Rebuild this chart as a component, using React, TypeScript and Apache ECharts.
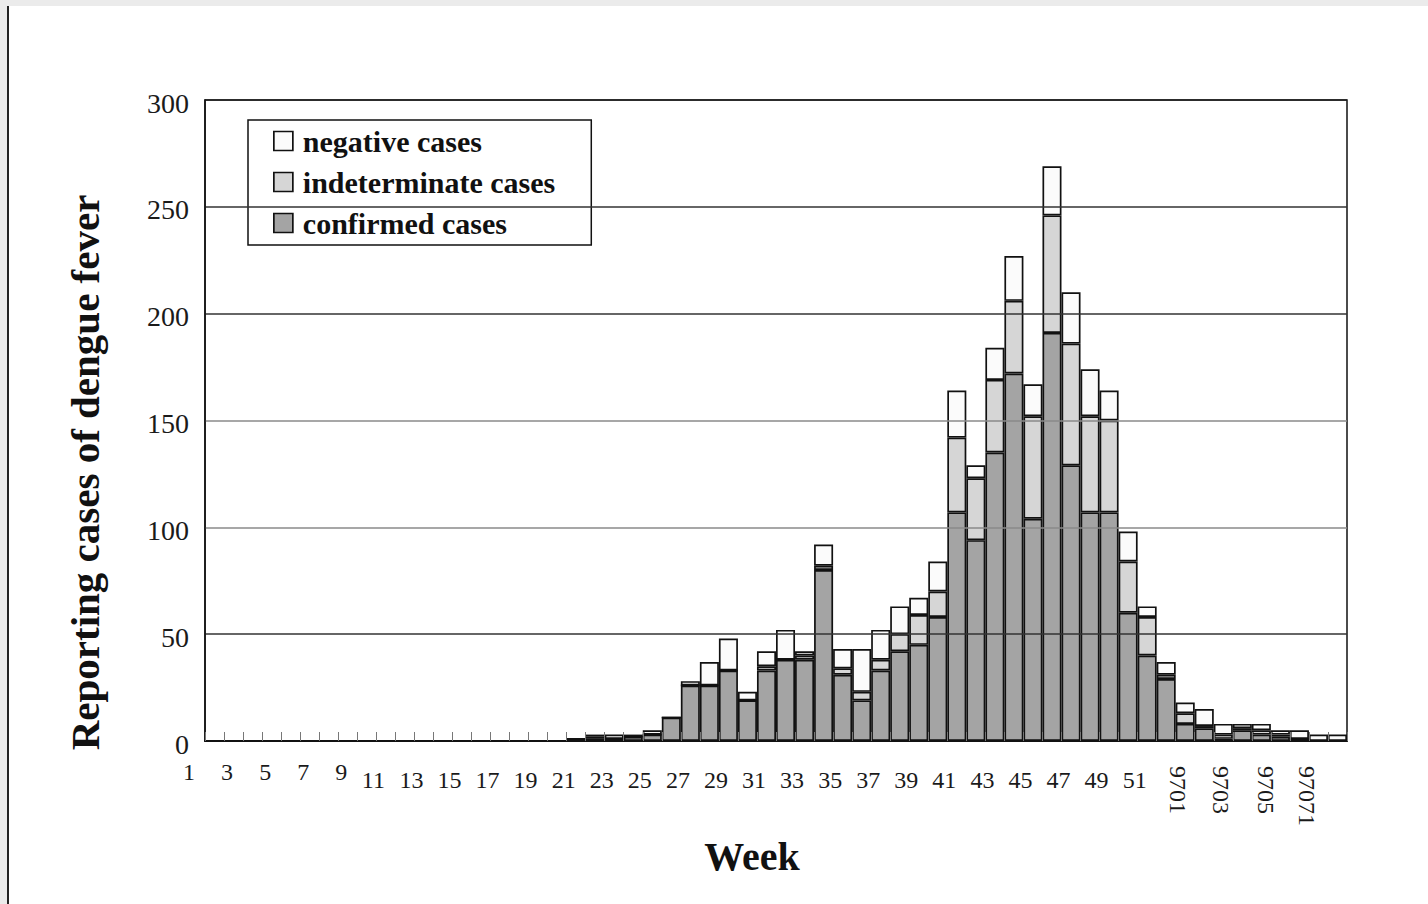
import React, { useEffect, useRef } from "react";
import * as echarts from "echarts";

// Categories: weeks 1..52 of 1996, then weeks 9701..9708
const categories = [
  "1", "2", "3", "4", "5", "6", "7", "8", "9", "10",
  "11", "12", "13", "14", "15", "16", "17", "18", "19", "20",
  "21", "22", "23", "24", "25", "26", "27", "28", "29", "30",
  "31", "32", "33", "34", "35", "36", "37", "38", "39", "40",
  "41", "42", "43", "44", "45", "46", "47", "48", "49", "50",
  "51", "52", "9701", "9702", "9703", "9704", "9705", "9706", "9707", "9708",
];

const weekTickLabels = [
  "1", "3", "5", "7", "9", "11", "13", "15", "17", "19", "21", "23", "25",
  "27", "29", "31", "33", "35", "37", "39", "41", "43", "45", "47", "49", "51",
];
const yearTickCategories = ["9701", "9703", "9705", "9707"];
const yearTickLabels = ["9701", "9703", "9705", "97071"];

const confirmed = [
  0, 0, 0, 0, 0, 0, 0, 0, 0, 0,
  0, 0, 0, 0, 0, 0, 0, 0, 0, 1,
  1, 1, 2, 3, 11, 26, 26, 33, 19, 33,
  38, 38, 80, 31, 19, 33, 42, 45, 58, 107,
  94, 135, 172, 104, 191, 129, 107, 107, 60, 40,
  29, 8, 6, 1, 5, 3, 2, 1, 0, 0,
];
const indeterminate = [
  0, 0, 0, 0, 0, 0, 0, 0, 0, 0,
  0, 0, 0, 0, 0, 0, 0, 0, 0, 0,
  1, 0, 0, 0, 0, 0, 0, 0, 0, 2,
  0, 2, 2, 3, 4, 5, 8, 14, 12, 35,
  29, 34, 34, 48, 55, 57, 45, 43, 24, 18,
  2, 5, 1, 2, 1, 2, 1, 0, 0, 0,
];
const negative = [
  0, 0, 0, 0, 0, 0, 0, 0, 0, 0,
  0, 0, 0, 0, 0, 0, 0, 0, 0, 0,
  1, 2, 1, 2, 0, 2, 11, 15, 4, 7,
  14, 2, 10, 9, 20, 14, 13, 8, 14, 22,
  6, 15, 21, 15, 23, 24, 22, 14, 14, 5,
  6, 5, 8, 5, 2, 3, 2, 4, 3, 3,
];

const yTicks = { min: 0, max: 300, interval: 50 };

const FONT = "'Liberation Serif', 'Times New Roman', Times, serif";

export default function App() {
  const ref = useRef<HTMLDivElement>(null);

  useEffect(() => {
    if (!ref.current) return;
    const chart = echarts.init(ref.current, undefined, { renderer: "svg" });

    const tickText = { fontFamily: FONT, fontSize: 24, color: "#1a1a1a" };
    const yearShifts = [52, 42, 28, 22];
    const yearRich: Record<string, any> = {};
    yearShifts.forEach((p, k) => {
      yearRich["r" + k] = { ...tickText, padding: [p, 0, 0, 0] };
    });

    const border = { borderColor: "#111", borderWidth: 1.7 };

    chart.setOption({
      animation: false,
      backgroundColor: "#ffffff",
      graphic: [
        { type: "rect", shape: { x: 0, y: 0, width: 1428, height: 6 }, style: { fill: "#ebebeb" }, z: -10 },
        { type: "rect", shape: { x: 0, y: 0, width: 7, height: 904 }, style: { fill: "#ebebeb" }, z: -10 },
        { type: "line", shape: { x1: 8, y1: 6, x2: 8, y2: 904 }, style: { stroke: "#222", lineWidth: 2 }, z: -9 },
      ],
      grid: {
        left: 205,
        right: 81,
        top: 100,
        bottom: 163,
        show: true,
        borderColor: "#111",
        borderWidth: 1.5,
        backgroundColor: "transparent",
        outerBoundsMode: "none",
      },
      legend: {
        data: ["negative cases", "indeterminate cases", "confirmed cases"],
        orient: "vertical",
        left: 248,
        top: 120,
        icon: "rect",
        itemWidth: 19,
        itemHeight: 19,
        itemGap: 11,
        selectedMode: false,
        backgroundColor: "#ffffff",
        borderColor: "#111",
        borderWidth: 1.5,
        borderRadius: 0,
        padding: [6, 36, 7, 25],
        textStyle: { fontFamily: FONT, fontSize: 30, fontWeight: "bold", color: "#111", padding: [0, 0, 0, 5] },
        itemStyle: border,
      },
      xAxis: [
        {
          type: "category",
          data: categories,
          position: "bottom",
          z: 5,
          name: "Week",
          nameLocation: "middle",
          nameGap: 95,
          nameTextStyle: { fontFamily: FONT, fontSize: 40, fontWeight: "bold", color: "#111", padding: [0, 48, 0, 0] },
          axisLine: { lineStyle: { color: "#111", width: 2 } },
          axisTick: { show: true, inside: true, length: 9, interval: 0, lineStyle: { color: "#777", width: 1 } },
          axisLabel: {
            interval: (_i: number, v: string) => weekTickLabels.includes(v),
            margin: 19,
            formatter: (v: string) =>
              weekTickLabels.includes(v) ? (v.length === 1 ? `{s|${v}}` : `{d|${v}}`) : "",
            rich: {
              s: { ...tickText, padding: [0, 51, 0, 0] },
              d: { ...tickText, padding: [8, 63, 0, 0] },
            },
          },
          splitLine: { show: false },
        },
        {
          type: "category",
          data: categories,
          position: "bottom",
          z: 5,
          axisLine: { show: false },
          axisTick: { show: false },
          splitLine: { show: false },
          axisLabel: {
            rotate: -90,
            margin: 25,
            interval: (_i: number, v: string) => yearTickCategories.includes(v),
            formatter: (v: string) => {
              const k = yearTickCategories.indexOf(v);
              return k >= 0 ? `{r${k}|${yearTickLabels[k]}}` : "";
            },
            rich: yearRich,
          },
        },
      ],
      yAxis: {
        type: "value",
        min: yTicks.min,
        max: yTicks.max,
        interval: yTicks.interval,
        z: 5,
        name: "Reporting cases of dengue fever",
        nameLocation: "middle",
        nameRotate: 90,
        nameGap: 100,
        nameTextStyle: { fontFamily: FONT, fontSize: 41, fontWeight: "bold", color: "#111", padding: [0, 104, 0, 0] },
        axisLine: { show: true, lineStyle: { color: "#111", width: 1.5 } },
        axisTick: { show: false },
        axisLabel: {
          margin: 16,
          formatter: "{v|{value}}",
          rich: { v: { fontFamily: FONT, fontSize: 28, color: "#1a1a1a", padding: [6, 0, 0, 0] } },
        },
        splitLine: {
          show: true,
          lineStyle: { color: ["#222", "#333", "#8a8a8a", "#8a8a8a", "#333", "#333", "#222"], width: 1.5 },
        },
      },
      series: [
        {
          name: "confirmed cases",
          type: "bar",
          stack: "total",
          xAxisIndex: 0,
          barCategoryGap: "0%",
          data: confirmed,
          itemStyle: { color: "#a4a4a4", ...border },
        },
        {
          name: "indeterminate cases",
          type: "bar",
          stack: "total",
          xAxisIndex: 0,
          barCategoryGap: "0%",
          data: indeterminate,
          itemStyle: { color: "#d6d6d6", ...border },
        },
        {
          name: "negative cases",
          type: "bar",
          stack: "total",
          xAxisIndex: 0,
          barCategoryGap: "0%",
          data: negative,
          itemStyle: { color: "#fbfbfb", ...border },
        },
      ],
    });

    return () => chart.dispose();
  }, []);

  return (
    <div
      ref={ref}
      style={{ position: "absolute", left: 0, top: 0, width: 1428, height: 904 }}
    />
  );
}
